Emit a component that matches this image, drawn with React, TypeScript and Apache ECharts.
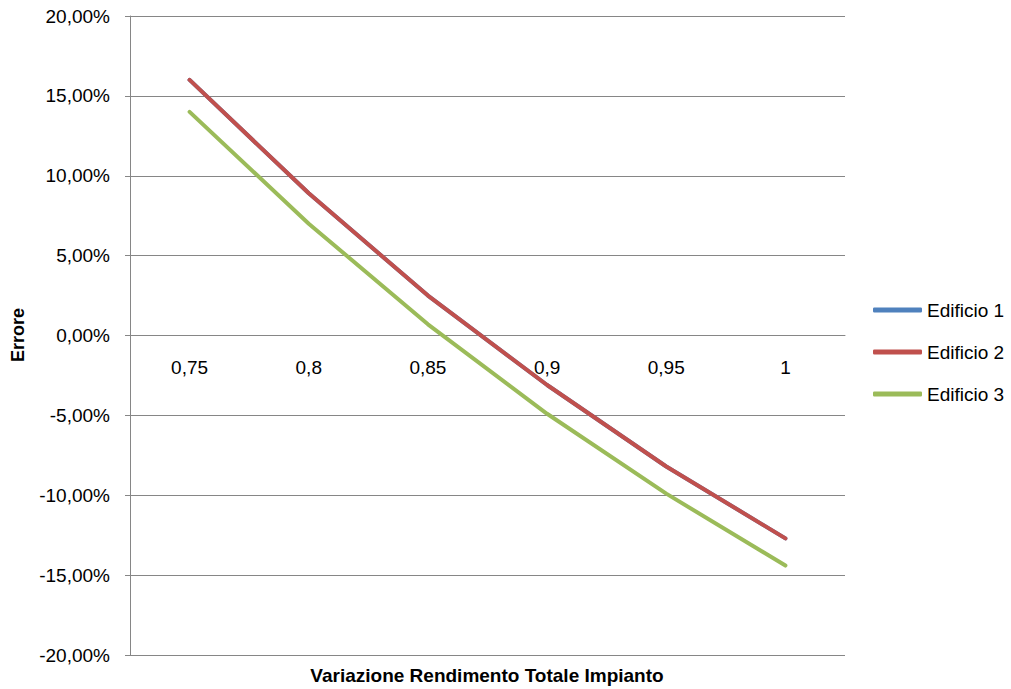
import React, { useEffect, useRef } from "react";
import * as echarts from "echarts";

// Rendimento totale impianto (category axis)
const categories = ["0,75", "0,8", "0,85", "0,9", "0,95", "1"];

// Errore percentuale per edificio
const edificio1 = [16.0, 8.9, 2.5, -3.1, -8.2, -12.7];
const edificio2 = [16.0, 8.9, 2.5, -3.1, -8.2, -12.7];
const edificio3 = [14.0, 7.0, 0.7, -4.9, -9.9, -14.4];

const seriesNames = ["Edificio 1", "Edificio 2", "Edificio 3"];
const seriesColors = ["#4F81BD", "#C0504D", "#9BBB59"];

const yTitle = "Errore";
const xTitle = "Variazione Rendimento Totale Impianto";

const FONT = "'Liberation Sans', Arial, sans-serif";
const GRID_COLOR = "#868686";

const GRID_TOP = 16;
const GRID_BOTTOM = 34;
const CHART_H = 689;
const Y_MIN = -20;
const Y_MAX = 20;

const fmtPct = (v: number) => v.toFixed(2).replace(".", ",") + "%";

export default function App() {
  const ref = useRef<HTMLDivElement>(null);

  useEffect(() => {
    if (!ref.current) return;
    const chart = echarts.init(ref.current, undefined, { renderer: "svg" });
    const data = [edificio1, edificio2, edificio3];

    // category axis sits on the zero line of the value axis
    const plotH = CHART_H - GRID_TOP - GRID_BOTTOM;
    const zeroFromBottom = (plotH * (0 - Y_MIN)) / (Y_MAX - Y_MIN);

    chart.setOption({
      animation: false,
      backgroundColor: "#ffffff",
      grid: { left: 130, right: 166, top: GRID_TOP, bottom: GRID_BOTTOM, containLabel: false },
      legend: {
        orient: "vertical",
        left: 868,
        top: 295,
        itemWidth: 49,
        itemHeight: 5,
        itemGap: 22,
        icon: "roundRect",
        data: seriesNames,
        textStyle: { fontFamily: FONT, fontSize: 19, color: "#000", lineHeight: 20 },
      },
      xAxis: {
        type: "category",
        data: categories,
        boundaryGap: true,
        position: "bottom",
        offset: -zeroFromBottom,
        axisLine: { onZero: false, lineStyle: { color: GRID_COLOR, width: 1 } },
        axisTick: { show: false },
        axisLabel: { fontFamily: FONT, fontSize: 19, color: "#000", margin: 22 },
        splitLine: { show: false },
      },
      yAxis: {
        type: "value",
        min: Y_MIN,
        max: Y_MAX,
        interval: 5,
        axisLine: { show: true, lineStyle: { color: GRID_COLOR, width: 1 } },
        axisTick: { show: true, length: 5, lineStyle: { color: GRID_COLOR } },
        axisLabel: {
          fontFamily: FONT,
          fontSize: 19,
          color: "#000",
          margin: 20,
          formatter: (v: number) => fmtPct(v),
        },
        splitLine: { show: true, lineStyle: { color: GRID_COLOR, width: 1 } },
      },
      series: data.map((d, i) => ({
        name: seriesNames[i],
        type: "line",
        data: d,
        showSymbol: false,
        symbol: "none",
        color: seriesColors[i],
        lineStyle: { color: seriesColors[i], width: 4, cap: "round", join: "round" },
        z: 2 + i,
      })),
      graphic: [
        {
          type: "text",
          x: 487,
          y: 675,
          style: {
            text: xTitle,
            fontFamily: FONT,
            fontSize: 19,
            fontWeight: "bold",
            fill: "#000",
            align: "center",
            verticalAlign: "middle",
          },
        },
        {
          type: "text",
          x: 18,
          y: 335,
          rotation: Math.PI / 2,
          style: {
            text: yTitle,
            fontFamily: FONT,
            fontSize: 18,
            fontWeight: "bold",
            fill: "#000",
            align: "center",
            verticalAlign: "middle",
          },
        },
      ],
    });

    return () => chart.dispose();
  }, []);

  return (
    <div
      ref={ref}
      style={{ position: "fixed", left: 0, top: 0, width: 1011, height: 689, background: "#fff" }}
    />
  );
}
